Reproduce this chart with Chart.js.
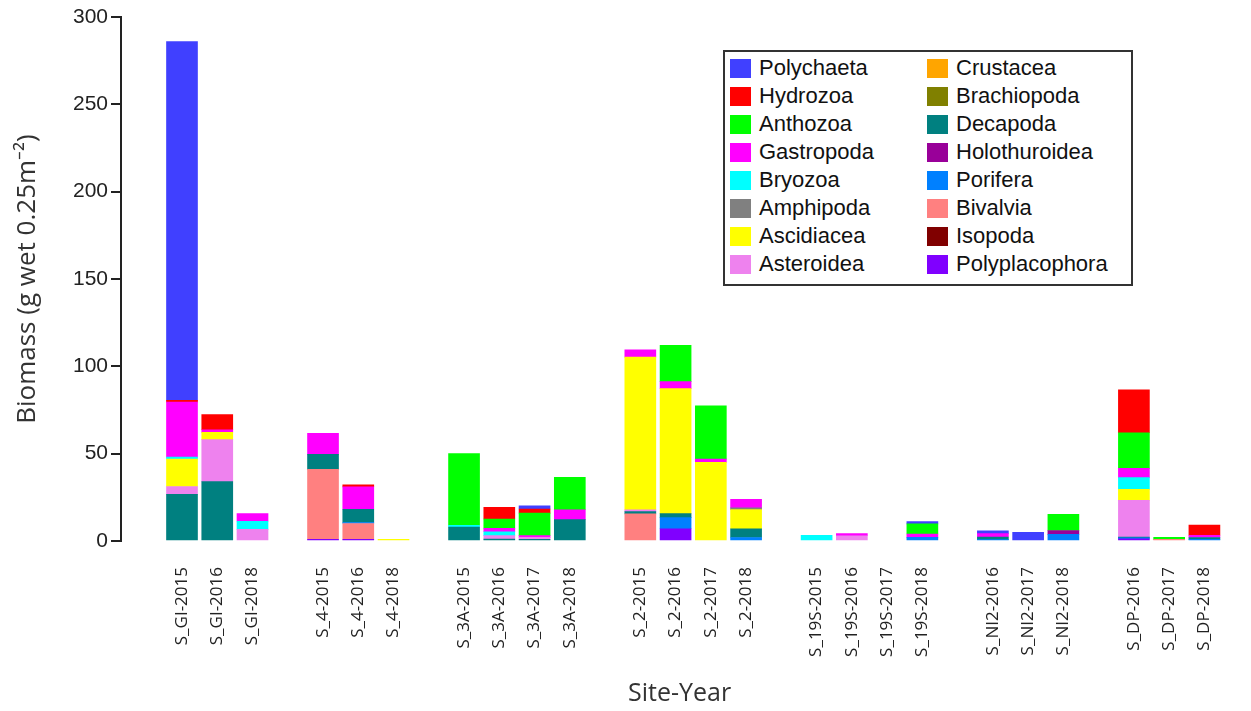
<!DOCTYPE html>
<html>
<head>
<meta charset="utf-8">
<script src="https://cdn.jsdelivr.net/npm/chart.js@4.4.0/dist/chart.umd.min.js"></script>
<style>
  body { margin: 0; background: #fff; }
  #wrap { position: relative; width: 1251px; height: 711px; }
  #legend {
    position: absolute; left: 723px; top: 50px; width: 410px; height: 236px;
    box-sizing: border-box; border: 2px solid #333; background: #fff;
    padding: 2px 0 0 5px;
    display: grid; grid-auto-flow: column;
    grid-template-rows: repeat(8, 28px); grid-template-columns: 197px 1fr;
    font-family: "Liberation Sans", Arial, sans-serif; font-size: 22px; color: #111;
  }
  .lg-item { display: flex; align-items: center; white-space: nowrap; }
  .lg-box { width: 21px; height: 19px; margin-right: 8px; flex: none; }
</style>
</head>
<body>
<div id="wrap">
  <canvas id="chart" width="1251" height="711"></canvas>
  <div id="legend"></div>
</div>
<script>
/* DATA */

const siteYears = [
  "S_GI-2015", "S_GI-2016", "S_GI-2018",
  "S_4-2015", "S_4-2016", "S_4-2018",
  "S_3A-2015", "S_3A-2016", "S_3A-2017", "S_3A-2018",
  "S_2-2015", "S_2-2016", "S_2-2017", "S_2-2018",
  "S_19S-2015", "S_19S-2016", "S_19S-2017", "S_19S-2018",
  "S_NI2-2016", "S_NI2-2017", "S_NI2-2018",
  "S_DP-2016", "S_DP-2017", "S_DP-2018"
];

// biomass per taxon, one value per site-year (g wet 0.25m-2)
const polychaeta     = [205.4, 0, 0,   0, 0, 0,      0, 0, 1.9, 0,        0, 0, 0, 0,          0, 0, 0, 1.3,    1.6, 5, 0,      0, 0, 0];
const hydrozoa       = [1, 8.7, 0,     0, 1.1, 0,    0, 6.7, 2.3, 0,      0, 0, 0, 0,          0, 0, 0, 0,      0, 0, 0,        24.5, 0, 5.8];
const anthozoa       = [0, 0, 0,       0, 0, 0,      41, 5.3, 12.9, 18.5, 0, 20.8, 30.5, 0,    0, 0, 0, 5.8,    0, 0, 9.2,      20.4, 1.2, 0];
const gastropoda     = [31.5, 1.5, 4.4, 12, 12.8, 0, 0, 2, 1, 5.7,        4.2, 4, 1.9, 4.8,    0, 1.3, 0, 1.9,  1.9, 0, 0,      5.3, 0, 1.3];
const bryozoa        = [1.1, 0, 4.6,   0, 0, 0,      1, 2.2, 0, 0,        0, 0, 0, 0,          3.2, 0, 0, 0,    0, 0, 0,        6.7, 0, 0];
const amphipoda      = [0, 0, 0,       0, 0, 0,      0, 0, 0, 0,          0, 0, 0, 1,          0, 0, 0, 0,      0, 0, 0,        0, 0, 0];
const ascidiacea     = [15.7, 4.2, 0,  0, 0, 1,      0, 0, 0, 0,          87.5, 71.5, 45, 11,  0, 0, 0, 0,      0, 0, 0,        6.3, 0, 0];
const asteroidea     = [4.5, 24, 6.7,  0, 0, 0,      0, 2, 1.1, 0,        1, 0, 0, 0,          0, 3, 0, 0,      0, 0, 0,        21, 0, 0];
const crustacea      = [0, 0, 0,       0, 0, 0,      0, 0, 0, 0,          0, 0, 0, 0,          0, 0, 0, 0,      0, 0, 0,        0, 0, 0];
const brachiopoda    = [0, 0, 0,       0, 0, 0,      0, 0, 0, 0,          0, 0, 0, 0,          0, 0, 0, 0,      0, 0, 0,        0, 0, 0];
const decapoda       = [26.7, 34, 0,   8.6, 7.6, 0,  8, 1.1, 1, 12.2,     1.3, 2.3, 0, 5,      0, 0, 0, 0,      1.5, 0, 0,      0.5, 0, 1];
const holothuroidea  = [0, 0, 0,       0, 0, 0,      0, 0, 0, 0,          0, 0, 0, 0,          0, 0, 0, 0,      0, 0, 2.2,      0, 0, 0];
const porifera       = [0, 0, 0,       0, 0.6, 0,    0, 0, 0, 0,          0, 6.4, 0, 2,        0, 0, 0, 2.1,    0.8, 0, 3.8,    0.5, 0, 1];
const bivalvia       = [0, 0, 0,       40, 9, 0,     0, 0, 0, 0,          15.5, 0, 0, 0,       0, 0, 0, 0,      0, 0, 0,        0, 0.9, 0];
const isopoda        = [0, 0, 0,       0, 0, 0,      0, 0, 0, 0,          0, 0, 0, 0,          0, 0, 0, 0,      0, 0, 0,        0, 0, 0];
const polyplacophora = [0, 0, 0,       1, 1, 0,      0, 0, 0, 0,          0, 7, 0, 0,          0, 0, 0, 0,      0, 0, 0,        1.3, 0, 0];

const yTicks = [0, 50, 100, 150, 200, 250, 300];

/* SERIES (bottom of stack first) */

const series = [
  ["Polyplacophora", polyplacophora, "#8000ff"],
  ["Isopoda", isopoda, "#800000"],
  ["Bivalvia", bivalvia, "#ff8080"],
  ["Porifera", porifera, "#0080ff"],
  ["Holothuroidea", holothuroidea, "#990099"],
  ["Decapoda", decapoda, "#008080"],
  ["Brachiopoda", brachiopoda, "#808000"],
  ["Crustacea", crustacea, "#ffa500"],
  ["Asteroidea", asteroidea, "#ee82ee"],
  ["Ascidiacea", ascidiacea, "#ffff00"],
  ["Amphipoda", amphipoda, "#808080"],
  ["Bryozoa", bryozoa, "#00ffff"],
  ["Gastropoda", gastropoda, "#ff00ff"],
  ["Anthozoa", anthozoa, "#00ff00"],
  ["Hydrozoa", hydrozoa, "#ff0000"],
  ["Polychaeta", polychaeta, "#4040ff"],
];

// slot of each bar; one empty slot between sites
let slot = -1, prevSite = null;
const xPos = siteYears.map((label) => {
  const site = label.split("-")[0];
  slot += prevSite && site !== prevSite ? 2 : 1;
  prevSite = site;
  return slot;
});

const datasets = series.map(([name, values, color]) => ({
  label: name,
  // zero -> null so empty taxa leave no hairline at the base
  data: values.map((v, i) => ({ x: xPos[i], y: v || null })),
  backgroundColor: color,
  borderWidth: 0,
  stack: "all",
  barThickness: 31,
}));

Chart.defaults.font.family = "'Open Sans', sans-serif";
Chart.defaults.color = "#333";

const chart = new Chart(document.getElementById("chart"), {
  type: "bar",
  data: { datasets: datasets },
  options: {
    responsive: false,
    animation: false,
    devicePixelRatio: 1,
    layout: { padding: { top: 17, right: 6, left: 0, bottom: 0 } },
    plugins: { legend: { display: false }, tooltip: { enabled: false } },
    scales: {
      x: {
        type: "linear",
        min: -1.07,
        max: 29.3,
        grid: { display: false, drawTicks: false },
        border: { display: false },
        afterBuildTicks: (scale) => {
          scale.ticks = xPos.map((v) => ({ value: v }));
        },
        afterFit: (scale) => {
          scale.height = 170;
        },
        ticks: {
          autoSkip: false,
          minRotation: 90,
          maxRotation: 90,
          padding: 26,
          color: "#222",
          font: { size: 17 },
          callback: (v, i) => siteYears[i],
        },
        title: {
          display: true,
          text: "Site-Year",
          color: "#333",
          font: { size: 25 },
          padding: { top: 0, bottom: 2 },
        },
      },
      y: {
        stacked: true,
        min: 0,
        max: 300,
        afterBuildTicks: (scale) => {
          scale.ticks = yTicks.map((v) => ({ value: v }));
        },
        afterFit: (scale) => {
          scale.width = 121;
        },
        grid: { drawOnChartArea: false, drawTicks: true, tickLength: 10, color: "#222", lineWidth: 2 },
        border: { display: true, color: "#222", width: 2 },
        ticks: {
          padding: 3,
          color: "#222",
          font: { family: "'Liberation Sans', Arial, sans-serif", size: 21 },
        },
        title: {
          display: true,
          text: "Biomass (g wet 0.25m\u207B\u00B2)",
          color: "#333",
          font: { size: 26 },
          padding: { top: 12, bottom: 0 },
        },
      },
    },
  },
});

/* HTML LEGEND, column by column */

const legendItems = chart.options.plugins.legend.labels.generateLabels(chart).reverse();
const legendEl = document.getElementById("legend");
legendItems.forEach((item) => {
  const row = document.createElement("div");
  row.className = "lg-item";
  const box = document.createElement("span");
  box.className = "lg-box";
  box.style.background = item.fillStyle;
  const text = document.createElement("span");
  text.textContent = item.text;
  row.appendChild(box);
  row.appendChild(text);
  legendEl.appendChild(row);
});
</script>
</body>
</html>
